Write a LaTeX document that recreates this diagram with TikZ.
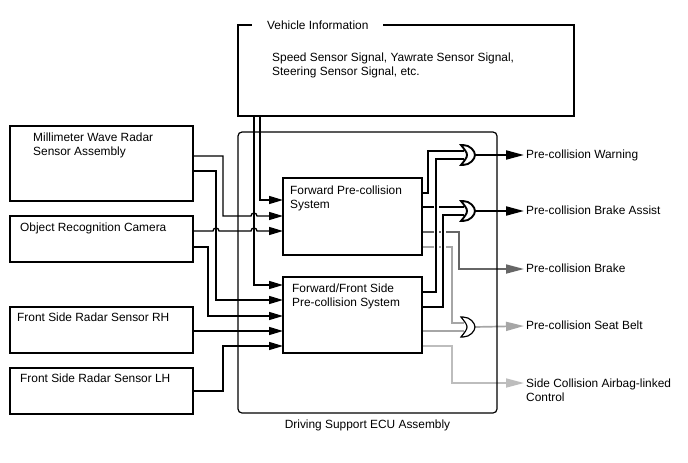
\documentclass[tikz,border=0pt]{standalone}
\usepackage{fontspec}
\setmainfont{Liberation Sans}
\usetikzlibrary{arrows.meta,positioning,backgrounds}

\definecolor{sigdark}{HTML}{666666}
\definecolor{siglight}{HTML}{A6A6A6}
\definecolor{sigpale}{HTML}{BDBDBD}

\tikzset{
  blk/.style={draw, line width=1.2pt, outer sep=0pt, inner sep=0pt, anchor=north west},
  txt/.style={inner sep=0pt, anchor=north west, align=left},
  sig/.style={line width=1.3pt, -{Triangle[length=14pt,width=8pt]}},
  thk/.style={line width=2pt},
  halo/.style={preaction={draw=white, line width=5pt}},
  tip/.style={-{Triangle[length=18pt,width=9pt]}},
  res/.style={inner xsep=2pt, inner ysep=0pt, anchor=west, text height=8.6pt, text depth=2.5pt},
  orgate/.pic={
    \draw[fill=white] (-7,-10) -- (-5,-10) .. controls (2,-10) and (7,-4) .. (7,0)
      .. controls (7,4) and (2,10) .. (-5,10) -- (-7,10) .. controls (1,0) .. (-7,-10) -- cycle;
    \coordinate (-in1) at (-3.6,-4);
    \coordinate (-in2) at (-3.6,4);
    \coordinate (-out) at (7,0);
  },
}

\begin{document}
\begin{tikzpicture}[x=1pt, y=-1pt, font=\fontsize{11.9}{14}\selectfont]
  \useasboundingbox (0,0) rectangle (688,463);

  % vehicle information
  \node[blk, minimum width=336pt, minimum height=91pt] (vinfo) at (238,25) {};
  \node[fill=white, inner xsep=15pt, inner ysep=1pt, anchor=west] (vtitle) at (252,25) {Vehicle Information};
  \node[txt] (vtxt) at (272,52.5) {Speed Sensor Signal, Yawrate Sensor Signal,\\Steering Sensor Signal, etc.};

  % ecu
  \node[blk, rounded corners=4pt, minimum width=259pt, minimum height=281pt] (ecu) at (238,132) {};
  \node[below=3pt of ecu] (ecutxt) {Driving Support ECU Assembly};

  % sensors
  \node[blk, minimum width=183pt, minimum height=75pt] (mmw) at (10,126) {};
  \node[txt] (mmwtxt) at (33,132.5) {Millimeter Wave Radar\\Sensor Assembly};
  \node[blk, minimum width=183pt, minimum height=46pt] (cam) at (10,216) {};
  \node[txt] (camtxt) at (20,222.5) {Object Recognition Camera};
  \node[blk, minimum width=183pt, minimum height=46pt] (rh) at (10,307) {};
  \node[txt] (rhtxt) at (17,312.5) {Front Side Radar Sensor RH};
  \node[blk, minimum width=183pt, minimum height=46pt] (lh) at (10,368) {};
  \node[txt] (lhtxt) at (20,373.5) {Front Side Radar Sensor LH};

  % systems
  \node[blk, minimum width=139pt, minimum height=77pt] (fwd) at (283,178) {};
  \node[txt] (fwdtxt) at (290,185.5) {Forward Pre-collision\\System};
  \node[blk, minimum width=139pt, minimum height=76pt] (ffs) at (283,277) {};
  \node[txt] (ffstxt) at (292,283.5) {Forward/Front Side\\Pre-collision System};

  % gates and results
  \pic[line width=1.9pt] (g1) at (468,155) {orgate};
  \pic[line width=1.9pt] (g2) at (468,211) {orgate};
  \pic[line width=1.2pt] (g3) at (468,327) {orgate};

  \node[res] (warn) at (524,155) {Pre-collision Warning};
  \node[res] (assist) at (524,211) {Pre-collision Brake Assist};
  \node[res] (brake) at (524,269) {Pre-collision Brake};
  \node[res] (belt) at (524,326) {Pre-collision Seat Belt};
  \node[txt] (side) at (526,378.7) {Side Collision Airbag-linked\\Control};

  \begin{pgfonlayer}{background}
    % inputs
    \draw[sig] ([xshift=22pt]vinfo.south west) |- ([yshift=-22pt]fwd.north west);
    \draw[sig] ([xshift=16pt]vinfo.south west) |- ([yshift=-8pt]ffs.north west);
    \draw[sig] ([yshift=-30pt]mmw.north east) -- ++(30,0) -- ++(0,60) -- ++(28,0)
      arc[start angle=180, end angle=360, radius=3] -- ([yshift=-38pt]fwd.north west);
    \draw[sig] ([yshift=-45pt]mmw.north east) -- ++(23,0) |- ([yshift=-23pt]ffs.north west);
    \draw[sig] ([yshift=-15pt]cam.north east) -- ++(20,0)
      arc[start angle=180, end angle=360, radius=3] -- ++(32,0)
      arc[start angle=180, end angle=360, radius=3] -- ([yshift=-53pt]fwd.north west);
    \draw[sig] ([yshift=-31pt]cam.north east) -- ++(15,0) |- ([yshift=-39pt]ffs.north west);
    \draw[sig] ([yshift=-24pt]rh.north east) -- ([yshift=-54pt]ffs.north west);
    \draw[sig] ([yshift=-23pt]lh.north east) -- ++(30,0) |- ([yshift=-69pt]ffs.north west);

    % outputs
    \draw[line width=1.7pt, sigdark, tip] ([yshift=-54pt]fwd.north east) -- ++(37,0) |- (brake.west);
    \draw[line width=1.7pt, siglight] ([yshift=-69pt]fwd.north east) -- ++(30,0) |- (g3-in1);
    \draw[line width=1.7pt, siglight] (g3-in2 -| ffs.east) -- (g3-in2);
    \draw[line width=1.7pt, siglight, tip] (g3-out) -- (belt.west);
    \draw[line width=1.7pt, sigpale, tip] ([yshift=-69pt]ffs.north east) -- ++(30,0)
      |- ([xshift=-2pt,yshift=-4.3pt]side.north west);

    \draw[thk] ([yshift=-15pt]fwd.north east) -- ++(6,0) |- (g1-in1);
    \draw[thk] (g2-in1 -| fwd.east) -- (g2-in1);
    \draw[thk, halo] ([yshift=-15pt]ffs.north east) -- ++(14,0) |- (g1-in2);
    \draw[thk, halo] ([yshift=-30pt]ffs.north east) -- ++(21,0) |- (g2-in2);
    \draw[thk, tip] (g1-out) -- (warn.west);
    \draw[thk, tip] (g2-out) -- (assist.west);
  \end{pgfonlayer}
\end{tikzpicture}
\end{document}
